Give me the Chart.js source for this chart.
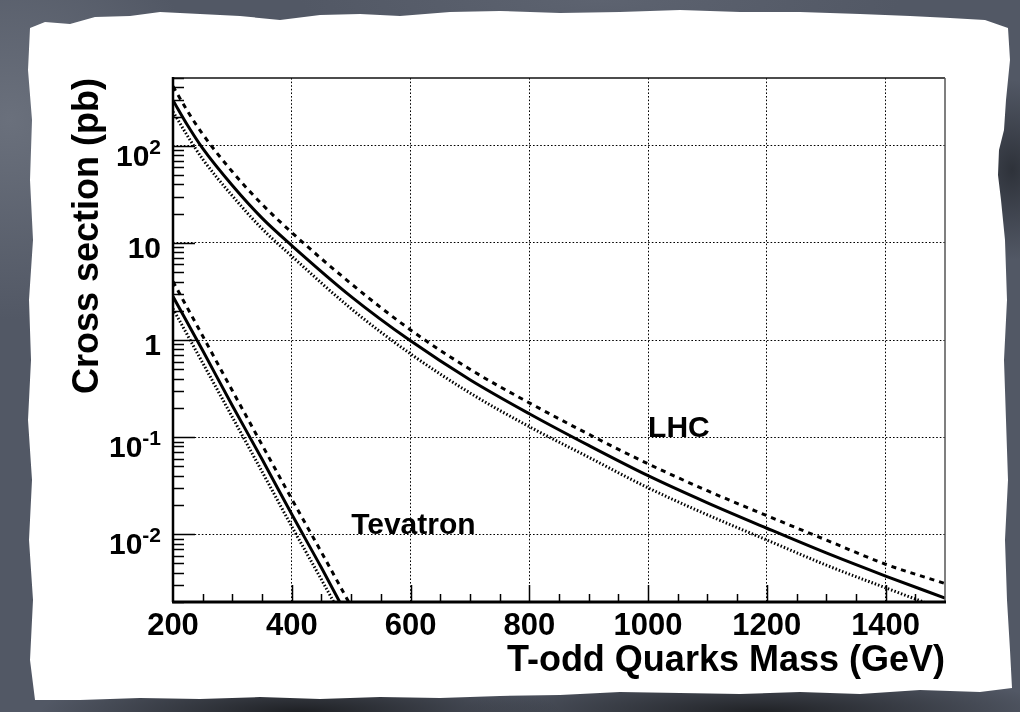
<!DOCTYPE html>
<html>
<head>
<meta charset="utf-8">
<script src="https://cdn.jsdelivr.net/npm/chart.js@4.4.1/dist/chart.umd.min.js"></script>
<style>
  html, body { margin: 0; padding: 0; }
  body {
    width: 1020px; height: 712px; overflow: hidden; position: relative;
    background:
      radial-gradient(ellipse 60px 90px at 1012px 170px, #2e323a 0%, rgba(46,50,58,0) 100%),
      radial-gradient(ellipse 260px 40px at 300px 712px, #1e2024 0%, rgba(30,32,36,0) 100%),
      radial-gradient(ellipse 300px 40px at 760px 712px, #202226 0%, rgba(32,34,38,0) 100%),
      radial-gradient(ellipse 200px 200px at 10px 120px, #6a707c 0%, rgba(106,112,124,0) 100%),
      radial-gradient(ellipse 300px 60px at 600px 0px, #5d6370 0%, rgba(93,99,112,0) 100%),
      #525865;
  }
  #paper {
    position: absolute; left: 0; top: 0; width: 1020px; height: 712px; background: #fff;
    clip-path: polygon(30px 28px, 45px 22px, 70px 24px, 95px 17px, 130px 16px, 160px 12px, 200px 14px,
      240px 16px, 280px 20px, 320px 15px, 360px 14px, 400px 16px, 450px 12px, 500px 11px, 560px 13px,
      620px 12px, 680px 10px, 740px 12px, 800px 12px, 860px 14px, 910px 16px, 950px 18px, 985px 20px,
      1008px 28px, 1010px 60px, 1006px 100px, 1004px 130px, 999px 150px, 998px 175px, 1001px 200px,
      1005px 240px, 1007px 300px, 1004px 360px, 1006px 420px, 1008px 480px, 1005px 540px, 1007px 600px,
      1010px 650px, 1012px 688px, 980px 692px, 920px 690px, 860px 694px, 800px 692px, 740px 694px,
      680px 693px, 620px 692px, 560px 695px, 500px 696px, 440px 698px, 380px 697px, 320px 699px,
      260px 697px, 200px 699px, 140px 698px, 80px 700px, 35px 700px, 30px 660px, 33px 600px,
      29px 540px, 32px 480px, 28px 420px, 31px 360px, 29px 300px, 33px 240px, 30px 180px,
      32px 120px, 28px 70px);
  }
  #chart { position: absolute; left: 0; top: 0; }
</style>
</head>
<body>
<div id="paper"></div>
<canvas id="chart" width="1020" height="712"></canvas>
<script>
// LHC cross sections (pb)
const massLHC = [200, 225, 250, 300, 350, 400, 500, 600, 700, 800, 900, 1000, 1100, 1200, 1300, 1400, 1500];
const lhcCentral = [294, 161, 94, 39, 18, 9.4, 2.8, 0.98, 0.39, 0.174, 0.082, 0.040, 0.021, 0.0115, 0.0064, 0.0037, 0.0022];
const lhcUpper = [410, 225, 132, 54, 25, 12.8, 3.8, 1.27, 0.50, 0.225, 0.107, 0.053, 0.028, 0.0155, 0.0087, 0.0049, 0.0031];
const lhcLower = [225, 125, 73, 30.5, 14, 7.3, 2.1, 0.72, 0.285, 0.128, 0.062, 0.030, 0.0158, 0.0087, 0.0048, 0.0028, 0.00165];

// Tevatron cross sections (pb)
const massTev = [200, 250, 300, 350, 400, 450, 500];
const tevCentral = [2.8, 0.78, 0.21, 0.059, 0.016, 0.0045, 0.0012];
const tevUpper = [4.0, 1.1, 0.30, 0.083, 0.023, 0.0065, 0.0018];
const tevLower = [2.1, 0.58, 0.16, 0.044, 0.012, 0.0034, 0.00093];

const xTickValues = [200, 400, 600, 800, 1000, 1200, 1400];
const yTickValues = [100, 10, 1, 0.1, 0.01];
const yTickBase = ['10', '10', '1', '10', '10'];
const yTickExp = ['2', '', '', '-1', '-2'];

const curveNames = ['LHC', 'Tevatron'];
const curveNameMass = [1000, 500];
const curveNameSigma = [0.1, 0.01];

const FONT = "'Liberation Sans', Arial, Helvetica, sans-serif";
Chart.defaults.font.family = FONT;
Chart.defaults.color = '#000';

function pts(xs, ys) {
  return xs.map((x, i) => ({ x: x, y: ys[i] }));
}

function curve(xs, ys, dash) {
  return {
    data: pts(xs, ys),
    borderColor: '#000',
    borderWidth: 3,
    borderDash: dash,
    borderCapStyle: 'butt',
    pointRadius: 0,
    fill: false,
    cubicInterpolationMode: 'monotone'
  };
}

// ROOT style frame, inner ticks, y labels with exponents, curve names
const rootFrame = {
  id: 'rootFrame',
  afterDraw(chart) {
    const { ctx, chartArea: a, scales: { x, y } } = chart;
    ctx.save();
    ctx.strokeStyle = '#000';

    // ticks
    ctx.lineWidth = 1.5;
    ctx.beginPath();
    for (let n = -3; n <= 2; n++) {
      for (let k = 1; k <= 9; k++) {
        const v = k * Math.pow(10, n);
        if (v < y.min || v > y.max) continue;
        const py = Math.round(y.getPixelForValue(v)) + 0.5;
        ctx.moveTo(a.left, py);
        ctx.lineTo(a.left + (k === 1 ? 22 : 11), py);
      }
    }
    for (let m = 250; m < 1500; m += 50) {
      const px = Math.round(x.getPixelForValue(m)) + 0.5;
      ctx.moveTo(px, a.bottom);
      ctx.lineTo(px, a.bottom - (m % 200 === 0 ? 17 : 8));
    }
    ctx.stroke();

    // frame
    ctx.lineWidth = 1.5;
    ctx.strokeStyle = '#111';
    ctx.beginPath();
    ctx.moveTo(a.left, a.top); ctx.lineTo(a.right, a.top);
    ctx.stroke();
    ctx.strokeStyle = '#555';
    ctx.beginPath();
    ctx.moveTo(a.right, a.top); ctx.lineTo(a.right, a.bottom);
    ctx.stroke();
    ctx.strokeStyle = '#000';
    ctx.lineWidth = 2.5;
    ctx.beginPath();
    ctx.moveTo(a.left, a.top - 1); ctx.lineTo(a.left, a.bottom);
    ctx.stroke();
    ctx.lineWidth = 3;
    ctx.beginPath();
    ctx.moveTo(a.left - 1, a.bottom); ctx.lineTo(a.right + 1, a.bottom);
    ctx.stroke();

    // y tick labels
    ctx.fillStyle = '#000';
    ctx.textAlign = 'right';
    ctx.textBaseline = 'alphabetic';
    const right = a.left - 12;
    yTickValues.forEach((v, i) => {
      const py = y.getPixelForValue(v);
      if (yTickExp[i]) {
        ctx.font = 'bold 21px ' + FONT;
        const w = ctx.measureText(yTickExp[i]).width;
        ctx.fillText(yTickExp[i], right, py + 8);
        ctx.font = 'bold 30px ' + FONT;
        ctx.fillText(yTickBase[i], right - w, py + 20);
      } else {
        ctx.font = 'bold 30px ' + FONT;
        ctx.fillText(yTickBase[i], right, py + 15);
      }
    });

    // curve names
    ctx.textAlign = 'left';
    ctx.font = 'bold 30px ' + FONT;
    curveNames.forEach((t, i) => {
      ctx.fillText(t, x.getPixelForValue(curveNameMass[i]), y.getPixelForValue(curveNameSigma[i]));
    });
    ctx.restore();
  }
};

const gridOpts = { color: '#000', lineWidth: 1, drawTicks: false };
const borderOpts = { display: false, dash: [1.6, 2] };

new Chart(document.getElementById('chart'), {
  type: 'line',
  data: {
    datasets: [
      curve(massLHC, lhcLower, [1.5, 2]),
      curve(massLHC, lhcUpper, [5, 5]),
      curve(massLHC, lhcCentral, []),
      curve(massTev, tevLower, [1.5, 2]),
      curve(massTev, tevUpper, [5, 5]),
      curve(massTev, tevCentral, [])
    ]
  },
  options: {
    responsive: false,
    animation: false,
    layout: { padding: { top: 78, right: 75, left: 0, bottom: 0 } },
    plugins: { legend: { display: false }, tooltip: { enabled: false } },
    scales: {
      x: {
        type: 'linear',
        min: 200,
        max: 1500,
        afterBuildTicks: s => { s.ticks = xTickValues.map(v => ({ value: v })); },
        afterFit: s => { s.height = 110; },
        ticks: {
          font: { size: 31, weight: 'bold' }, color: '#000', padding: 6, maxRotation: 0, autoSkip: false,
          callback: v => String(v)
        },
        grid: gridOpts,
        border: borderOpts,
        title: {
          display: true, text: 'T-odd Quarks Mass (GeV)', align: 'end', color: '#000',
          font: { size: 36, weight: 'bold' }, padding: { top: 0, bottom: 29 }
        }
      },
      y: {
        type: 'logarithmic',
        min: 0.002,
        max: 500,
        afterBuildTicks: s => { s.ticks = yTickValues.map(v => ({ value: v })); },
        afterFit: s => { s.width = 173; },
        ticks: { display: false },
        grid: gridOpts,
        border: borderOpts,
        title: {
          display: true, text: 'Cross section (pb)', align: 'end', color: '#000',
          font: { size: 36, weight: 'bold' }, padding: { top: 66, bottom: 0 }
        }
      }
    }
  },
  plugins: [rootFrame]
});
</script>
</body>
</html>
